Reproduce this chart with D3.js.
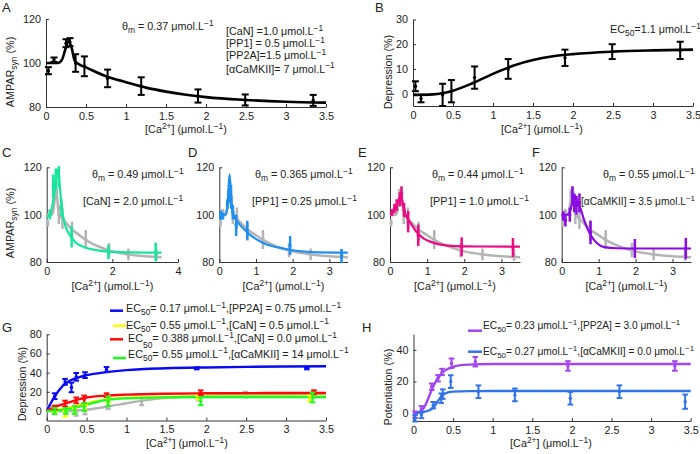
<!DOCTYPE html>
<html><head><meta charset="utf-8">
<script src="https://cdn.jsdelivr.net/npm/d3@7/dist/d3.min.js"></script>
<style>
html,body{margin:0;padding:0;background:#fff;}
text{font-family:"Liberation Sans",Arial,sans-serif;fill:#222;}
</style></head>
<body><svg id="c" width="700" height="454"></svg>
<script>
// ---------------- DATA ----------------
// Control (panel A) experimental points and fit
const ctrlX   = [0.03, 0.1, 0.25, 0.3, 0.37, 0.48, 0.77, 1.19, 1.9, 2.49, 3.34];
const ctrlY   = [96.5, 101.5, 109, 109.5, 100, 98.5, 93, 89.5, 85, 83.2, 83];
const ctrlErr = [1.6, 1, 1.8, 1.8, 4, 4.5, 4, 4, 3, 2.5, 2.5];
const ctrlFit = [[0,100],[0.15,100],[0.2,101.5],[0.24,106],[0.28,110],[0.32,107],[0.36,101],[0.42,99.3],[0.5,98],[0.75,94],[1,91.3],[1.25,88.8],[1.5,87],[1.75,85.6],[2,84.5],[2.5,83.2],[3,82.4],[3.5,82]];

// Panel B (depression, control)
const depX   = [0.03, 0.1, 0.37, 0.48, 0.77, 1.19, 1.9, 2.49, 3.34];
const depY   = [3, -2, -0.5, 1, 6.5, 10, 14.5, 17, 17.5];
const depErr = [2, 1.5, 4.5, 4.5, 4.5, 4, 3.3, 3, 3.5];
const depFit = [[0,-0.5],[0.25,-0.3],[0.5,1.2],[0.75,4.3],[1,8],[1.25,11.3],[1.5,13.6],[1.75,15.1],[2,16],[2.5,17],[3,17.5],[3.5,17.8]];

// Panel C  [CaN] = 2.0
const cX   = [0.1, 0.2, 0.28, 0.37, 0.45, 0.76, 1.88, 3.32];
const cY   = [100, 112, 115, 116, 103, 90.6, 84.2, 84.2];
const cErr = [2, 5, 4.5, 4.5, 3.5, 4.5, 3, 4];
const cFit = [[0,99],[0.1,100],[0.2,106],[0.28,115],[0.33,119],[0.38,115],[0.45,104],[0.55,96],[0.7,91.5],[0.9,88],[1.2,86],[1.6,84.8],[2,84.3],[3,84],[3.5,84]];

// Panel D  [PP1] = 0.25
const dX   = [0.04, 0.1, 0.22, 0.27, 0.32, 0.37, 0.46, 0.76, 1.93, 3.33];
const dY   = [99.8, 99.4, 104.5, 110, 107.5, 101, 95.5, 93.4, 87, 82.5];
const dErr = [2, 1.5, 2, 5, 5, 3, 4.5, 4, 4, 3];
const dFit = [[0,100],[0.18,100],[0.23,105],[0.28,117],[0.33,106],[0.38,100],[0.5,97],[0.8,92],[1.2,88],[1.8,85.5],[2.5,84.2],[3.5,84]];

// Panel E  [PP1] = 1.0
const eX   = [0.05, 0.12, 0.18, 0.27, 0.31, 0.38, 0.49, 0.76, 1.93, 3.31];
const eY   = [100.8, 102.6, 104, 106.5, 109, 102, 97, 91.3, 86.4, 86.1];
const eErr = [1.5, 2, 2.5, 3, 3, 3, 4.5, 4.5, 4, 4];
const eFit = [[0,100],[0.1,101.5],[0.18,104],[0.25,107],[0.3,108.5],[0.35,104],[0.42,100],[0.55,96.5],[0.7,93],[0.9,90],[1.1,88.5],[1.5,87],[2,86.6],[3.5,86.5]];

// Panel F  [aCaMKII] = 3.5
const fX   = [0.04, 0.1, 0.22, 0.29, 0.34, 0.4, 0.48, 0.78, 1.98, 3.36];
const fY   = [99.5, 97.5, 100, 108, 105, 104, 105, 92.5, 85.7, 85.7];
const fErr = [2, 2.5, 3, 4, 4, 4, 4, 5, 4, 4.5];
const fFit = [[0,100],[0.15,100],[0.22,101],[0.3,106],[0.35,108],[0.42,105.5],[0.5,103],[0.6,98],[0.7,94],[0.8,91],[0.95,88],[1.15,86.3],[1.5,85.8],[2,85.7],[3.5,85.7]];

// Panel G (depression)
const gBlueX = [0.1, 0.23, 0.31, 0.37, 0.48, 0.75, 1.88, 3.26];
const gBlueY = [15.4, 30.4, 24.5, 35.6, 37.4, 43.3, 44.4, 44.4];
const gBlueE = [3, 3, 5, 4, 3, 2.5, 1, 1];
const gBlueFit = [[0,0],[0.05,8],[0.1,15],[0.15,21],[0.2,26],[0.25,29.5],[0.3,32],[0.4,35],[0.5,37.3],[0.75,40.5],[1,42.6],[1.5,44.5],[2,45.4],[2.5,46],[3,46.4],[3.5,46.7]];
const gYelX = [0.1, 0.23, 0.35, 0.48, 0.77, 1.9, 3.3];
const gYelY = [1, -3, 0, 3, 12, 14, 13];
const gYelE = [2, 3, 3, 3, 3, 2, 3];
const gYelFit = [[0,0],[0.1,0.8],[0.2,2],[0.3,3.8],[0.4,6],[0.5,8],[0.6,10],[0.75,12],[1,13.6],[1.5,14.6],[2,15],[3,15.2],[3.5,15.2]];
const gRedX = [0.1, 0.23, 0.37, 0.47, 0.75, 1.93, 3.35];
const gRedY = [3.5, 7.7, 11, 12, 16.4, 19, 19.5];
const gRedE = [2, 3, 3, 4, 2, 2.5, 2];
const gRedFit = [[0,0],[0.1,4],[0.2,6.8],[0.3,9.5],[0.4,12],[0.5,14],[0.75,16],[1,17],[1.5,18],[2,18.4],[3,18.7],[3.5,18.8]];
const gGrnX = [0.1, 0.24, 0.35, 0.47, 0.77, 1.93, 3.33];
const gGrnY = [0, 0, 1, 4, 10, 10, 14];
const gGrnE = [3, 3, 4, 4, 5, 4, 5];
const gGrnFit = [[0,0],[0.1,0.3],[0.2,1],[0.3,2.3],[0.4,4.2],[0.5,6.5],[0.6,8.8],[0.75,11.5],[1,13.2],[1.5,14.2],[2,14.5],[3,14.6],[3.5,14.6]];

// Panel H (potentiation)
const hPurX = [0.02, 0.1, 0.23, 0.31, 0.36, 0.48, 0.78, 1.95, 3.3];
const hPurY = [-1, 2.4, 16.7, 22, 26, 31.5, 32.5, 29.8, 29.8];
const hPurE = [2, 2, 2, 2, 2, 3, 3, 3, 3];
const hPurFit = [[0,0],[0.05,0.3],[0.1,1.5],[0.15,5],[0.2,11],[0.25,17],[0.3,21.5],[0.35,24.8],[0.4,27],[0.5,29.3],[0.6,30.3],[0.75,30.8],[1,31],[2,31],[3.5,31]];
const hBluX = [0.02, 0.1, 0.25, 0.35, 0.37, 0.47, 0.82, 1.28, 1.98, 2.6, 3.43];
const hBluY = [-3.3, -1.2, 5, 9.4, 12, 19.9, 13.5, 11.5, 9.4, 13.5, 7.2];
const hBluE = [2, 2, 2, 3, 3, 4, 4, 4, 4, 4, 4.5];
const hBluFit = [[0,0],[0.1,0.5],[0.2,1.8],[0.25,3.5],[0.3,7],[0.35,10.5],[0.4,12.5],[0.5,13.6],[0.75,13.9],[1,14],[3.5,14]];

const ticks0to35 = [0,0.5,1,1.5,2,2.5,3,3.5];

// ---------------- COLORS ----------------
const BLACK = "#000", GRAY = "#b4b4b4";
const C_GREEN = "#17e59c", D_BLUE = "#1f8ef0", E_MAG = "#ea0a82", F_PUR = "#8a0ae6";
const G_BLUE = "#0a0af0", G_YEL = "#ffff00", G_RED = "#ff0a0a", G_GRN = "#1eff1e";
const H_PUR = "#a146f0", H_BLU = "#3274e6";

const FS = 10.8; // annotation font size

// ---------------- HELPERS ----------------
const svg = d3.select("#c");
svg.append("rect").attr("width",700).attr("height",454).attr("fill","#fff");

function rich(sel, x, y, parts, size, opts = {}) {
  const t = sel.append("text").attr("x", x).attr("y", y).attr("font-size", size);
  if (opts.anchor) t.attr("text-anchor", opts.anchor);
  if (opts.rotate) t.attr("transform", `rotate(-90,${x},${y})`);
  let cur = 0;
  parts.forEach(p => {
    const s = p[0], k = p[1];
    let target = 0;
    if (k === "sub") target = p[2] !== undefined ? p[2] : size * 0.3;
    if (k === "sup") target = -size * 0.4;
    const ts = t.append("tspan").attr("dy", target - cur).text(s);
    if (k) ts.attr("font-size", size * 0.78);
    cur = target;
  });
  return t;
}

function panel(cfg) {
  const x = d3.scaleLinear().domain(cfg.xd).range([cfg.l, cfg.r]);
  const y = d3.scaleLinear().domain(cfg.yd).range([cfg.b, cfg.t]);
  const g = svg.append("g");
  const ax = g.append("g").attr("transform", `translate(0,${cfg.b})`)
    .call(d3.axisBottom(x).tickValues(cfg.xt).tickSizeInner(-3).tickSizeOuter(0).tickPadding(5).tickFormat(d => String(d)));
  const ay = g.append("g").attr("transform", `translate(${cfg.l},0)`)
    .call(d3.axisLeft(y).tickValues(cfg.yt).tickSizeInner(-3).tickSizeOuter(0).tickPadding(5).tickFormat(d => String(d)));
  [ax, ay].forEach(a => {
    a.selectAll("path").attr("stroke", "#333").attr("stroke-width", 1);
    a.selectAll("line").attr("stroke", "#333");
    a.selectAll("text").attr("font-size", 10.8).attr("fill", "#222")
      .attr("font-family", '"Liberation Sans",Arial,sans-serif');
  });
  return { g, x, y };
}

function curve(p, pts, color, w) {
  const line = d3.line().x(d => p.x(d[0])).y(d => p.y(d[1])).curve(d3.curveMonotoneX);
  p.g.append("path").datum(pts).attr("d", line).attr("fill", "none")
    .attr("stroke", color).attr("stroke-width", w).attr("stroke-linejoin", "round");
}

function errbars(p, xs, ys, es, color, w, cap) {
  const gg = p.g.append("g");
  xs.forEach((xv, i) => {
    const cx = p.x(xv), y1 = p.y(ys[i] - es[i]), y2 = p.y(ys[i] + es[i]);
    gg.append("line").attr("x1", cx).attr("x2", cx).attr("y1", y1).attr("y2", y2)
      .attr("stroke", color).attr("stroke-width", w);
    if (cap) {
      [y1, y2].forEach(yy => gg.append("line").attr("x1", cx - cap).attr("x2", cx + cap)
        .attr("y1", yy).attr("y2", yy).attr("stroke", color).attr("stroke-width", w));
    }
    gg.append("circle").attr("cx", cx).attr("cy", p.y(ys[i])).attr("r", 1.7).attr("fill", color);
  });
}

const caLabel = [["[Ca"],["2+","sup"],["] (μmol.L"],["−1","sup"],[")"]];
const letter = (t, x, y) => svg.append("text").attr("x", x).attr("y", y).attr("font-size", 13).text(t);
const ampar = [["AMPAR"],["syn","sub"],[" (%)"]];

// ---------------- PANEL A ----------------
{
  const p = panel({ l: 46, r: 326, t: 19, b: 107, xd: [0, 3.5], yd: [80, 120], xt: ticks0to35, yt: [80, 100, 120] });
  curve(p, ctrlFit, BLACK, 2.6);
  errbars(p, ctrlX, ctrlY, ctrlErr, BLACK, 2, 3.5);
  letter("A", 2, 12);
  rich(svg, 186, 133, caLabel, 10.8, { anchor: "middle" });
  rich(svg, 14, 72, ampar, 10.8, { anchor: "middle", rotate: true });
  rich(svg, 122, 30, [["θ"], ["m", "sub"], [" = 0.37 μmol.L"], ["−1", "sup"]], FS);
  rich(svg, 226, 35, [["[CaN] =1.0  μmol.L"], ["−1", "sup"]], FS);
  rich(svg, 226, 47, [["[PP1] = 0.5 μmol.L"], ["−1", "sup"]], FS);
  rich(svg, 226, 59, [["[PP2A]=1.5  μmol.L"], ["−1", "sup"]], FS);
  rich(svg, 226, 72.5, [["[αCaMKII]= 7 μmol.L"], ["−1", "sup"]], FS);
}

// ---------------- PANEL B ----------------
{
  const p = panel({ l: 413, r: 693, t: 19.5, b: 106, xd: [0, 3.5], yd: [-5, 30], xt: ticks0to35, yt: [0, 10, 20, 30] });
  curve(p, depFit, BLACK, 2.6);
  errbars(p, depX, depY, depErr, BLACK, 2, 3.5);
  letter("B", 375, 12);
  rich(svg, 542, 133, caLabel, 10.8, { anchor: "middle" });
  rich(svg, 392, 72, [["Depression (%)"]], 10.8, { anchor: "middle", rotate: true });
  rich(svg, 610, 33, [["EC"], ["50", "sub"], ["=1.1 μmol.L"], ["−1", "sup"]], FS);
}

// ---------------- PANELS C-F ----------------
function small(cfg, fit, xs, ys, es, color, letterTxt, lx, line1, line2, t1x, t2x, fs2) {
  const p = panel({ l: cfg.l, r: cfg.r, t: 167.3, b: 262, xd: cfg.xd, yd: [80, 120], xt: cfg.xt, yt: [80, 100, 120] });
  errbars(p, ctrlX, ctrlY, ctrlErr, GRAY, 2.5, 0);
  curve(p, ctrlFit, GRAY, 2.5);
  curve(p, fit, color, 2.2);
  errbars(p, xs, ys, es, color, 2.5, 0);
  letter(letterTxt, lx, 157);
  rich(svg, (cfg.l + cfg.r) / 2, 290, caLabel, 10.8, { anchor: "middle" });
  rich(svg, t1x, 178, line1, FS);
  rich(svg, t2x, 205, line2, fs2 || FS);
}
small({ l: 46.7, r: 178, xd: [0, 4], xt: [0, 2, 4] }, cFit, cX, cY, cErr, C_GREEN, "C", 2,
  [["θ"], ["m", "sub"], [" = 0.49  μmol.L"], ["−1", "sup"]], [["[CaN] = 2.0 μmol.L"], ["−1", "sup"]], 92, 83);
rich(svg, 14, 223, ampar, 10.8, { anchor: "middle", rotate: true });
small({ l: 219.3, r: 347.7, xd: [0, 3.5], xt: [0, 1, 2, 3] }, dFit, dX, dY, dErr, D_BLUE, "D", 188,
  [["θ"], ["m", "sub"], [" = 0.365  μmol.L"], ["−1", "sup"]], [["[PP1] = 0.25 μmol.L"], ["−1", "sup"]], 255, 252);
small({ l: 390, r: 520, xd: [0, 3.5], xt: [0, 1, 2, 3] }, eFit, eX, eY, eErr, E_MAG, "E", 358,
  [["θ"], ["m", "sub"], [" = 0.44  μmol.L"], ["−1", "sup"]], [["[PP1] = 1.0 μmol.L"], ["−1", "sup"]], 432, 430);
small({ l: 561.7, r: 691, xd: [0, 3.5], xt: [0, 1, 2, 3] }, fFit, fX, fY, fErr, F_PUR, "F", 532,
  [["θ"], ["m", "sub"], [" = 0.55  μmol.L"], ["−1", "sup"]], [["[αCaMKII] = 3.5 μmol.L"], ["−1", "sup"]], 603, 581, 10.2);

// ---------------- PANEL G ----------------
{
  const p = panel({ l: 46.7, r: 326, t: 334.3, b: 420.5, xd: [0, 3.5], yd: [-10, 80], xt: ticks0to35, yt: [0, 20, 40, 60, 80] });
  errbars(p, depX, depY, depErr, GRAY, 2.2, 2.5);
  curve(p, depFit, GRAY, 2.4);
  curve(p, gBlueFit, G_BLUE, 2.4);
  curve(p, gYelFit, G_YEL, 2.4);
  curve(p, gRedFit, G_RED, 2.4);
  curve(p, gGrnFit, G_GRN, 2.4);
  errbars(p, gBlueX, gBlueY, gBlueE, G_BLUE, 2, 2.8);
  errbars(p, gYelX, gYelY, gYelE, G_YEL, 2, 2.8);
  errbars(p, gRedX, gRedY, gRedE, G_RED, 2, 2.8);
  errbars(p, gGrnX, gGrnY, gGrnE, G_GRN, 2, 2.8);
  letter("G", 2, 332);
  rich(svg, 187, 447, caLabel, 10.8, { anchor: "middle" });
  rich(svg, 26, 384, [["Depression (%)"]], 10.8, { anchor: "middle", rotate: true });
  const leg = [
    [G_BLUE, 110, 310.7, 126, 312, [["EC"], ["50", "sub"], ["= 0.17 μmol.L"], ["−1", "sup"], [",[PP2A] = 0.75  μmol.L"], ["−1", "sup"]]],
    [G_YEL, 113, 325.7, 126, 328.5, [["EC"], ["50", "sub"], ["= 0.55 μmol.L"], ["−1", "sup"], [",[CaN] = 0.5  μmol.L"], ["−1", "sup"]]],
    [G_RED, 110, 339.3, 128, 342, [["EC"], ["50", "sub", 5.5], ["= 0.388 μmol.L"], ["−1", "sup"], [",[CaN] = 0.0  μmol.L"], ["−1", "sup"]]],
    [G_GRN, 113, 358, 128, 357.5, [["EC"], ["50", "sub"], ["= 0.55 μmol.L"], ["−1", "sup"], [",[αCaMKII] = 14  μmol.L"], ["−1", "sup"]]]
  ];
  leg.forEach(r => {
    svg.append("line").attr("x1", r[1]).attr("x2", r[1] + 13).attr("y1", r[2]).attr("y2", r[2])
      .attr("stroke", r[0]).attr("stroke-width", 2.5);
    rich(svg, r[3], r[4], r[5], FS);
  });
}

// ---------------- PANEL H ----------------
{
  const p = panel({ l: 413.5, r: 690.7, t: 334, b: 421, xd: [0, 3.5], yd: [-5, 50], xt: ticks0to35, yt: [0, 20, 40] });
  curve(p, hPurFit, H_PUR, 2.4);
  curve(p, hBluFit, H_BLU, 2.4);
  errbars(p, hPurX, hPurY, hPurE, H_PUR, 2, 2.8);
  errbars(p, hBluX, hBluY, hBluE, H_BLU, 2, 2.8);
  letter("H", 362, 332);
  rich(svg, 551, 447, caLabel, 10.8, { anchor: "middle" });
  rich(svg, 392, 387, [["Potentiation (%)"]], 10.8, { anchor: "middle", rotate: true });
  const leg = [
    [H_PUR, 468, 330.7, 483, 329, [["EC"], ["50", "sub"], ["= 0.23 μmol.L"], ["−1", "sup"], [",[PP2A] = 3.0 μmol.L"], ["−1", "sup"]]],
    [H_BLU, 468, 351.7, 483, 355, [["EC"], ["50", "sub"], ["= 0.27 μmol.L"], ["−1", "sup"], [",[αCaMKII] = 0.0 μmol.L"], ["−1", "sup"]]]
  ];
  leg.forEach(r => {
    svg.append("line").attr("x1", r[1]).attr("x2", r[1] + 14).attr("y1", r[2]).attr("y2", r[2])
      .attr("stroke", r[0]).attr("stroke-width", 2.5);
    rich(svg, r[3], r[4], r[5], 10.2);
  });
}
</script></body></html>
